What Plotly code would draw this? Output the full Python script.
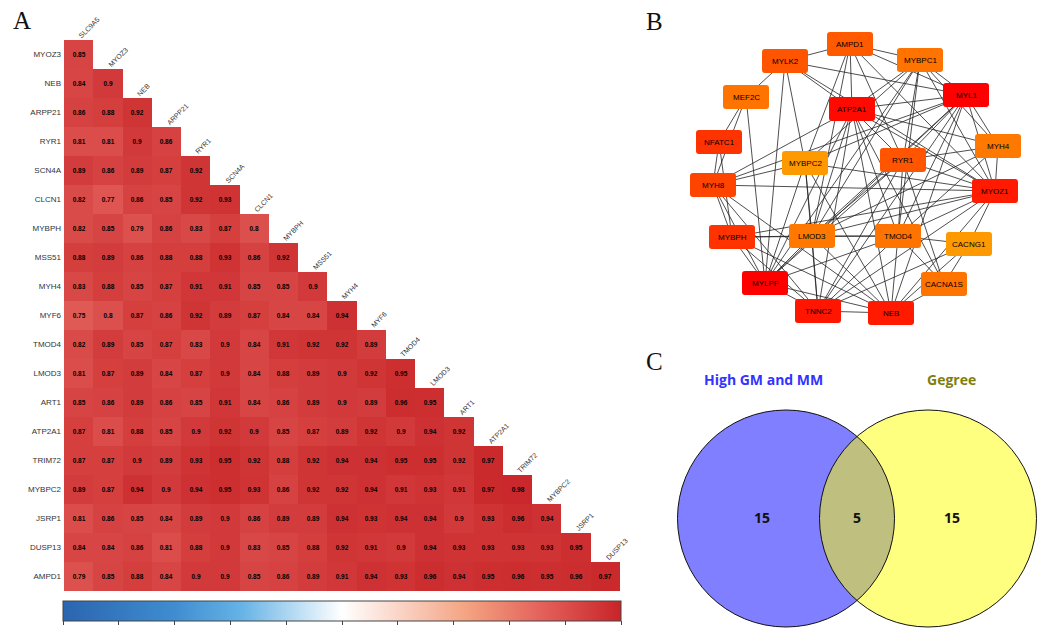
import plotly.graph_objects as go

# ---------------- Panel A data: correlation heatmap ----------------
row_genes = ["MYOZ3", "NEB", "ARPP21", "RYR1", "SCN4A", "CLCN1", "MYBPH", "MSS51", "MYH4", "MYF6",
             "TMOD4", "LMOD3", "ART1", "ATP2A1", "TRIM72", "MYBPC2", "JSRP1", "DUSP13", "AMPD1"]
col_genes = ["SLC9A5", "MYOZ3", "NEB", "ARPP21", "RYR1", "SCN4A", "CLCN1", "MYBPH", "MSS51", "MYH4",
             "MYF6", "TMOD4", "LMOD3", "ART1", "ATP2A1", "TRIM72", "MYBPC2", "JSRP1", "DUSP13"]

r_MYOZ3 = [0.85]
r_NEB = [0.84, 0.9]
r_ARPP21 = [0.86, 0.88, 0.92]
r_RYR1 = [0.81, 0.81, 0.9, 0.86]
r_SCN4A = [0.89, 0.86, 0.89, 0.87, 0.92]
r_CLCN1 = [0.82, 0.77, 0.86, 0.85, 0.92, 0.93]
r_MYBPH = [0.82, 0.85, 0.79, 0.86, 0.83, 0.87, 0.8]
r_MSS51 = [0.88, 0.89, 0.86, 0.88, 0.88, 0.93, 0.86, 0.92]
r_MYH4 = [0.83, 0.88, 0.85, 0.87, 0.91, 0.91, 0.85, 0.85, 0.9]
r_MYF6 = [0.75, 0.8, 0.87, 0.86, 0.92, 0.89, 0.87, 0.84, 0.84, 0.94]
r_TMOD4 = [0.82, 0.89, 0.85, 0.87, 0.83, 0.9, 0.84, 0.91, 0.92, 0.92, 0.89]
r_LMOD3 = [0.81, 0.87, 0.89, 0.84, 0.87, 0.9, 0.84, 0.88, 0.89, 0.9, 0.92, 0.95]
r_ART1 = [0.85, 0.86, 0.89, 0.86, 0.85, 0.91, 0.84, 0.86, 0.89, 0.9, 0.89, 0.96, 0.95]
r_ATP2A1 = [0.87, 0.81, 0.88, 0.85, 0.9, 0.92, 0.9, 0.85, 0.87, 0.89, 0.92, 0.9, 0.94, 0.92]
r_TRIM72 = [0.87, 0.87, 0.9, 0.89, 0.93, 0.95, 0.92, 0.88, 0.92, 0.94, 0.94, 0.95, 0.95, 0.92, 0.97]
r_MYBPC2 = [0.89, 0.87, 0.94, 0.9, 0.94, 0.95, 0.93, 0.86, 0.92, 0.92, 0.94, 0.91, 0.93, 0.91, 0.97, 0.98]
r_JSRP1 = [0.81, 0.86, 0.85, 0.84, 0.89, 0.9, 0.86, 0.89, 0.89, 0.94, 0.93, 0.94, 0.94, 0.9, 0.93, 0.96, 0.94]
r_DUSP13 = [0.84, 0.84, 0.86, 0.81, 0.88, 0.9, 0.83, 0.85, 0.88, 0.92, 0.91, 0.9, 0.94, 0.93, 0.93, 0.93, 0.93, 0.95]
r_AMPD1 = [0.79, 0.85, 0.88, 0.84, 0.9, 0.9, 0.85, 0.86, 0.89, 0.91, 0.94, 0.93, 0.96, 0.94, 0.95, 0.96, 0.95, 0.96, 0.97]

corr_rows = [r_MYOZ3, r_NEB, r_ARPP21, r_RYR1, r_SCN4A, r_CLCN1, r_MYBPH, r_MSS51, r_MYH4, r_MYF6,
             r_TMOD4, r_LMOD3, r_ART1, r_ATP2A1, r_TRIM72, r_MYBPC2, r_JSRP1, r_DUSP13, r_AMPD1]

colorbar_ticks = [-1, -0.8, -0.6, -0.4, -0.2, 0, 0.2, 0.4, 0.6, 0.8, 1]

# ---------------- Panel B data: PPI network ----------------
node_names = ["AMPD1", "MYLK2", "MYBPC1", "MEF2C", "ATP2A1", "MYL1", "NFATC1", "MYBPC2", "RYR1", "MYH4",
              "MYH8", "MYOZ1", "MYBPH", "LMOD3", "TMOD4", "CACNG1", "MYLPF", "CACNA1S", "TNNC2", "NEB"]
node_colors = ["#ff5a00", "#ff5500", "#ff7400", "#ff7400", "#ff0a00", "#ff0000", "#ff3300", "#ff9900",
               "#ff5500", "#ff7800", "#ff4400", "#ff1a00", "#ff3300", "#ff7800", "#ff7400", "#ff9900",
               "#ff0000", "#ff7400", "#ff1500", "#ff1a00"]
edge_src = ["AMPD1", "AMPD1", "AMPD1", "AMPD1", "AMPD1", "AMPD1", "AMPD1", "AMPD1",
            "MYLK2", "MYLK2", "MYLK2", "MYLK2", "MYLK2", "MYLK2",
            "MEF2C", "MEF2C", "MEF2C", "NFATC1", "NFATC1",
            "MYH8", "MYH8", "MYH8", "MYH8", "MYH8", "MYH8", "MYH8", "MYH8",
            "MYBPH", "MYBPH", "MYBPH", "MYBPH", "MYBPH", "MYBPH",
            "MYLPF", "MYLPF", "MYLPF", "MYLPF", "MYLPF", "MYLPF", "MYLPF", "MYLPF", "MYLPF",
            "TNNC2", "TNNC2", "TNNC2", "TNNC2", "TNNC2", "TNNC2", "TNNC2", "TNNC2", "TNNC2",
            "NEB", "NEB", "NEB", "NEB", "NEB", "NEB", "NEB", "NEB",
            "CACNA1S", "CACNA1S", "CACNA1S", "CACNA1S", "CACNG1", "CACNG1",
            "TMOD4", "TMOD4", "TMOD4", "TMOD4", "TMOD4", "TMOD4", "TMOD4",
            "LMOD3", "LMOD3", "LMOD3", "LMOD3", "LMOD3", "LMOD3", "LMOD3",
            "RYR1", "RYR1", "RYR1", "RYR1", "RYR1",
            "MYH4", "MYH4", "MYH4", "MYH4",
            "MYOZ1", "MYOZ1", "MYOZ1", "MYOZ1",
            "MYL1", "MYL1", "MYL1", "MYBPC1", "MYBPC1"]
edge_dst = ["MYLK2", "MYBPC1", "MYL1", "ATP2A1", "MYBPC2", "LMOD3", "MYOZ1", "RYR1",
            "MEF2C", "MYL1", "ATP2A1", "MYBPC2", "MYLPF", "MYOZ1",
            "NFATC1", "MYH8", "MYLPF", "MYH8", "MYBPH",
            "ATP2A1", "MYBPC2", "MYL1", "MYOZ1", "MYBPH", "MYLPF", "TNNC2", "NEB",
            "MYLPF", "LMOD3", "TMOD4", "NEB", "MYOZ1", "TNNC2",
            "TNNC2", "NEB", "LMOD3", "ATP2A1", "MYBPC1", "MYL1", "RYR1", "TMOD4", "MYBPC2",
            "NEB", "LMOD3", "TMOD4", "ATP2A1", "MYBPC2", "MYL1", "MYOZ1", "CACNG1", "RYR1",
            "TMOD4", "LMOD3", "CACNA1S", "CACNG1", "MYOZ1", "MYL1", "ATP2A1", "MYBPC2",
            "CACNG1", "RYR1", "ATP2A1", "TMOD4", "TMOD4", "MYOZ1",
            "LMOD3", "MYL1", "MYBPC1", "ATP2A1", "MYOZ1", "MYH4", "RYR1",
            "MYBPC1", "MYL1", "ATP2A1", "RYR1", "MYOZ1", "MYH4", "MYBPC2",
            "MYL1", "MYBPC1", "ATP2A1", "MYH4", "MYOZ1",
            "MYL1", "MYOZ1", "ATP2A1", "MYBPC1",
            "MYL1", "ATP2A1", "MYBPC1", "MYBPC2",
            "ATP2A1", "MYBPC1", "MYBPC2", "ATP2A1", "MYBPC2"]

# ---------------- Panel C data: Venn ----------------
venn_sets = ["High GM and MM", "Gegree"]
venn_counts = [15, 5, 15]   # left only, both, right only

# ================= layout (positions / styles) =================
W, H = 1044, 630
node_layout = {  # pixel centres of the Cytoscape layout
    "AMPD1": (850, 44), "MYLK2": (785, 61), "MYBPC1": (920, 60), "MEF2C": (746, 97),
    "ATP2A1": (852, 109), "MYL1": (966, 95), "NFATC1": (719, 142), "MYBPC2": (805, 163),
    "RYR1": (903, 160), "MYH4": (998, 146), "MYH8": (713, 185), "MYOZ1": (995, 191),
    "MYBPH": (732, 237), "LMOD3": (812, 236), "TMOD4": (898, 236), "CACNG1": (969, 244),
    "MYLPF": (765, 283), "CACNA1S": (944, 284), "TNNC2": (818, 311), "NEB": (891, 313)}
node_w, node_h, node_r = 46, 24, 3

n = len(row_genes)
z, txt = [], []
for i, vals in enumerate(corr_rows):
    zr = list(vals) + [None] * (n - len(vals))
    z.append(zr)
    txt.append([f"{v:g}" if v is not None else "" for v in zr])

colorscale = [[0.0, "#2b65b0"], [0.2, "#3f8dd0"], [0.32, "#66b3e6"], [0.5, "#ffffff"],
              [0.68, "#f6b49a"], [0.72, "#f4a582"], [0.86, "#e3605a"], [1.0, "#c82428"]]

fig = go.Figure()
fig.add_trace(go.Heatmap(
    z=z, x=list(range(n)), y=list(range(n)), text=txt, texttemplate="%{text}",
    textfont=dict(size=6.5, color="black", family="Liberation Sans", weight="bold"),
    colorscale=colorscale, zmin=-1, zmax=1, hoverinfo="skip", xgap=0, ygap=0,
    colorbar=dict(orientation="h", x=342 / W, xanchor="center", y=1 - 601 / H, yanchor="top",
                  len=558 / W, lenmode="fraction", thickness=20, xpad=0, ypad=0,
                  outlinewidth=1, outlinecolor="#444", tickvals=colorbar_ticks,
                  ticks="outside", ticklen=4, tickcolor="#444", showticklabels=False)))

fig.update_layout(
    xaxis=dict(domain=[64 / W, 620 / W], range=[-0.5, n - 0.5], showticklabels=False,
               showgrid=False, zeroline=False, ticks=""),
    yaxis=dict(domain=[1 - 591 / H, 1 - 40 / H], range=[n - 0.5, -0.5], tickvals=list(range(n)),
               ticktext=row_genes, showgrid=False, zeroline=False, ticks="",
               tickfont=dict(size=8, color="#333", family="Liberation Sans"), ticklabelstandoff=2),
    xaxis2=dict(domain=[630 / W, 1], range=[630, W], visible=False, fixedrange=True),
    yaxis2=dict(domain=[0, 1], range=[H, 0], visible=False, fixedrange=True, anchor="x2"),
)

annotations = []
for j, name in enumerate(col_genes):
    annotations.append(dict(x=j, y=j - 0.5, xref="x", yref="y", text=name, showarrow=False,
                            textangle=-45, xanchor="left", yanchor="bottom", xshift=-4, yshift=-2,
                            font=dict(size=7, color="#333", family="Liberation Sans")))

# ---- network edges ----
ex, ey = [], []
for s, d in zip(edge_src, edge_dst):
    x0, y0 = node_layout[s]
    x1, y1 = node_layout[d]
    ex += [x0, x1, None]
    ey += [y0, y1, None]
fig.add_trace(go.Scatter(x=ex, y=ey, mode="lines", line=dict(color="#222", width=0.8),
                         xaxis="x2", yaxis="y2", hoverinfo="skip", showlegend=False))

shapes = []
for name, col in zip(node_names, node_colors):
    cx, cy = node_layout[name]
    x0, x1 = cx - node_w / 2, cx + node_w / 2
    y0, y1 = cy - node_h / 2, cy + node_h / 2
    r = node_r
    path = (f"M{x0 + r},{y0} L{x1 - r},{y0} Q{x1},{y0} {x1},{y0 + r} L{x1},{y1 - r} "
            f"Q{x1},{y1} {x1 - r},{y1} L{x0 + r},{y1} Q{x0},{y1} {x0},{y1 - r} "
            f"L{x0},{y0 + r} Q{x0},{y0} {x0 + r},{y0} Z")
    shapes.append(dict(type="path", path=path, xref="x2", yref="y2", fillcolor=col,
                       line=dict(width=0), layer="above"))
    annotations.append(dict(x=cx, y=cy, xref="x2", yref="y2", text=name, showarrow=False,
                            font=dict(size=8, color="#000000", family="Liberation Sans")))

# ---- Venn ----
c_left, c_right, c_y, c_r = 786, 928, 518.5, 108.5
for cx, fill in [(c_left, "rgba(0,0,255,0.5)"), (c_right, "rgba(255,255,0,0.5)")]:
    shapes.append(dict(type="circle", xref="x2", yref="y2", x0=cx - c_r, x1=cx + c_r,
                       y0=c_y - c_r, y1=c_y + c_r, fillcolor=fill, line=dict(width=0), layer="above"))
for cx in [c_left, c_right]:
    shapes.append(dict(type="circle", xref="x2", yref="y2", x0=cx - c_r, x1=cx + c_r,
                       y0=c_y - c_r, y1=c_y + c_r, fillcolor="rgba(0,0,0,0)",
                       line=dict(width=1, color="#111"), layer="above"))

annotations.append(dict(x=763, y=379, xref="x2", yref="y2", text=f"<b>{venn_sets[0]}</b>", showarrow=False,
                        font=dict(size=14, color="#3333ff", family="Open Sans")))
annotations.append(dict(x=951, y=379, xref="x2", yref="y2", text=f"<b>{venn_sets[1]}</b>", showarrow=False,
                        font=dict(size=14, color="#7f7f10", family="Open Sans")))
for xpos, cnt in zip([762, 857, 952], venn_counts):
    annotations.append(dict(x=xpos, y=517, xref="x2", yref="y2", text=f"<b>{cnt}</b>", showarrow=False,
                            font=dict(size=14, color="#111", family="Open Sans")))

# panel letters
for letter, px, py in [("A", 22, 21), ("B", 654, 22), ("C", 654, 361)]:
    annotations.append(dict(x=px / W, y=1 - py / H, xref="paper", yref="paper", text=letter,
                            showarrow=False, xanchor="center", yanchor="middle",
                            font=dict(size=25, color="#111", family="Liberation Serif")))

fig.update_layout(width=W, height=H, margin=dict(l=0, r=0, t=0, b=0),
                  paper_bgcolor="white", plot_bgcolor="rgba(0,0,0,0)",
                  shapes=shapes, annotations=annotations, showlegend=False)

fig.write_html("out.html", config={"displayModeBar": False},
               post_script="document.body.style.margin='0px';document.body.style.overflow='hidden';")
